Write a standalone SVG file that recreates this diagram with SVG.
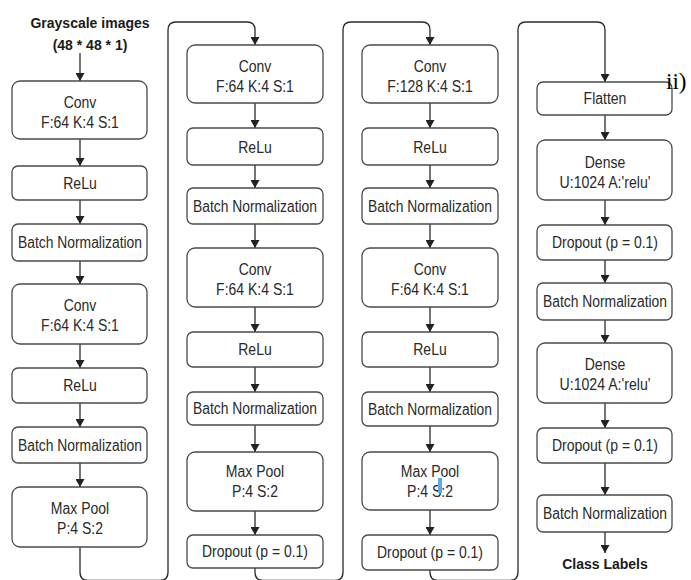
<svg xmlns="http://www.w3.org/2000/svg" width="691" height="580" viewBox="0 0 691 580">
<defs>
<marker id="ah" markerWidth="8" markerHeight="9" refX="8" refY="4.5" orient="auto" markerUnits="userSpaceOnUse">
<path d="M0,0 L8,4.5 L0,9 z" fill="#222"/>
</marker>
</defs>
<style>
.b{fill:#fff;stroke:#4a4a4a;stroke-width:1.3}
.t{font-family:"Liberation Sans",Arial,sans-serif;font-size:16px;fill:#2a2a2a;text-anchor:middle}
.h{font-family:"Liberation Sans",Arial,sans-serif;font-size:14px;font-weight:bold;fill:#1a1a1a;text-anchor:middle}
.c{fill:none;stroke:#2a2a2a;stroke-width:1.3}
.a{marker-end:url(#ah)}
</style>
<rect width="691" height="580" fill="#fff"/>

<g id="connectors">
<path class="c a" d="M80,53 V81"/>
<path class="c a" d="M80,139 V166"/>
<path class="c a" d="M80,200 V224"/>
<path class="c a" d="M80,261 V284"/>
<path class="c a" d="M80,344 V368"/>
<path class="c a" d="M80,403 V427"/>
<path class="c a" d="M80,463 V487"/>
<path class="c a" d="M80,547 V572 Q80,580.5 88,580.5 H160 Q168,580.5 168,572 V30 Q168,22 176,22 H247 Q255,22 255,30 V45"/>
<path class="c a" d="M255,103 V128"/>
<path class="c a" d="M255,165 V188"/>
<path class="c a" d="M255,224 V248"/>
<path class="c a" d="M255,307 V332"/>
<path class="c a" d="M255,367 V392"/>
<path class="c a" d="M255,425 V452"/>
<path class="c a" d="M255,511 V535"/>
<path class="c a" d="M255,568 V572 Q255,580.5 263,580.5 H335 Q343,580.5 343,572 V30 Q343,22 351,22 H422 Q430,22 430,30 V45"/>
<path class="c a" d="M430,103 V128"/>
<path class="c a" d="M430,165 V188"/>
<path class="c a" d="M430,224 V248"/>
<path class="c a" d="M430,307 V332"/>
<path class="c a" d="M430,367 V392"/>
<path class="c a" d="M430,426 V452"/>
<path class="c a" d="M430,510 V535"/>
<path class="c a" d="M430,570 V572 Q430,580.5 438,580.5 H510 Q518,580.5 518,572 V30 Q518,22 526,22 H597 Q605,22 605,30 V82"/>
<path class="c a" d="M605,115 V140"/>
<path class="c a" d="M605,200 V225"/>
<path class="c a" d="M605,260 V283"/>
<path class="c a" d="M605,320 V343"/>
<path class="c a" d="M605,403 V428"/>
<path class="c a" d="M605,463 V495"/>
<path class="c a" d="M605,532 V553"/>
</g>

<g id="input">
<text class="h" x="90" y="28">Grayscale images</text>
<text class="h" x="90" y="50">(48 * 48 * 1)</text>
</g>

<g id="c1-conv1"><rect class="b" x="12" y="81" width="135" height="58" rx="8"/>
<text class="t" x="80" y="108" textLength="32.7" lengthAdjust="spacingAndGlyphs">Conv</text>
<text class="t" x="80" y="128" textLength="77.8" lengthAdjust="spacingAndGlyphs">F:64 K:4 S:1</text></g>
<g id="c1-relu1"><rect class="b" x="12" y="166" width="135" height="34" rx="6"/>
<text class="t" x="80" y="189" textLength="33.5" lengthAdjust="spacingAndGlyphs">ReLu</text></g>
<g id="c1-bn1"><rect class="b" x="12" y="224" width="135" height="37" rx="6"/>
<text class="t" x="80" y="248" textLength="124" lengthAdjust="spacingAndGlyphs">Batch Normalization</text></g>
<g id="c1-conv2"><rect class="b" x="12" y="284" width="135" height="60" rx="8"/>
<text class="t" x="80" y="311" textLength="32.7" lengthAdjust="spacingAndGlyphs">Conv</text>
<text class="t" x="80" y="331" textLength="77.8" lengthAdjust="spacingAndGlyphs">F:64 K:4 S:1</text></g>
<g id="c1-relu2"><rect class="b" x="12" y="368" width="135" height="35" rx="6"/>
<text class="t" x="80" y="391" textLength="33.5" lengthAdjust="spacingAndGlyphs">ReLu</text></g>
<g id="c1-bn2"><rect class="b" x="12" y="427" width="135" height="36" rx="6"/>
<text class="t" x="80" y="451" textLength="124" lengthAdjust="spacingAndGlyphs">Batch Normalization</text></g>
<g id="c1-pool"><rect class="b" x="12" y="487" width="135" height="60" rx="8"/>
<text class="t" x="80" y="514" textLength="58.4" lengthAdjust="spacingAndGlyphs">Max Pool</text>
<text class="t" x="80" y="534" textLength="45.9" lengthAdjust="spacingAndGlyphs">P:4 S:2</text></g>

<g id="c2-conv1"><rect class="b" x="187" y="45" width="136" height="58" rx="8"/>
<text class="t" x="255" y="72" textLength="32.7" lengthAdjust="spacingAndGlyphs">Conv</text>
<text class="t" x="255" y="92" textLength="77.8" lengthAdjust="spacingAndGlyphs">F:64 K:4 S:1</text></g>
<g id="c2-relu1"><rect class="b" x="187" y="128" width="136" height="37" rx="6"/>
<text class="t" x="255" y="153" textLength="33.5" lengthAdjust="spacingAndGlyphs">ReLu</text></g>
<g id="c2-bn1"><rect class="b" x="187" y="188" width="136" height="36" rx="6"/>
<text class="t" x="255" y="212" textLength="124" lengthAdjust="spacingAndGlyphs">Batch Normalization</text></g>
<g id="c2-conv2"><rect class="b" x="187" y="248" width="136" height="59" rx="8"/>
<text class="t" x="255" y="275" textLength="32.7" lengthAdjust="spacingAndGlyphs">Conv</text>
<text class="t" x="255" y="295" textLength="77.8" lengthAdjust="spacingAndGlyphs">F:64 K:4 S:1</text></g>
<g id="c2-relu2"><rect class="b" x="187" y="332" width="136" height="35" rx="6"/>
<text class="t" x="255" y="355" textLength="33.5" lengthAdjust="spacingAndGlyphs">ReLu</text></g>
<g id="c2-bn2"><rect class="b" x="187" y="392" width="136" height="33" rx="6"/>
<text class="t" x="255" y="414" textLength="124" lengthAdjust="spacingAndGlyphs">Batch Normalization</text></g>
<g id="c2-pool"><rect class="b" x="187" y="452" width="136" height="59" rx="8"/>
<text class="t" x="255" y="477" textLength="58.4" lengthAdjust="spacingAndGlyphs">Max Pool</text>
<text class="t" x="255" y="497" textLength="45.9" lengthAdjust="spacingAndGlyphs">P:4 S:2</text></g>
<g id="c2-drop"><rect class="b" x="187" y="535" width="136" height="33" rx="6"/>
<text class="t" x="255" y="557" textLength="106" lengthAdjust="spacingAndGlyphs">Dropout (p = 0.1)</text></g>

<g id="c3-conv1"><rect class="b" x="362" y="45" width="136" height="58" rx="8"/>
<text class="t" x="430" y="72" textLength="32.7" lengthAdjust="spacingAndGlyphs">Conv</text>
<text class="t" x="430" y="92" textLength="85.6" lengthAdjust="spacingAndGlyphs">F:128 K:4 S:1</text></g>
<g id="c3-relu1"><rect class="b" x="362" y="128" width="136" height="37" rx="6"/>
<text class="t" x="430" y="153" textLength="33.5" lengthAdjust="spacingAndGlyphs">ReLu</text></g>
<g id="c3-bn1"><rect class="b" x="362" y="188" width="136" height="36" rx="6"/>
<text class="t" x="430" y="212" textLength="124" lengthAdjust="spacingAndGlyphs">Batch Normalization</text></g>
<g id="c3-conv2"><rect class="b" x="362" y="248" width="136" height="59" rx="8"/>
<text class="t" x="430" y="275" textLength="32.7" lengthAdjust="spacingAndGlyphs">Conv</text>
<text class="t" x="430" y="295" textLength="77.8" lengthAdjust="spacingAndGlyphs">F:64 K:4 S:1</text></g>
<g id="c3-relu2"><rect class="b" x="362" y="332" width="136" height="35" rx="6"/>
<text class="t" x="430" y="355" textLength="33.5" lengthAdjust="spacingAndGlyphs">ReLu</text></g>
<g id="c3-bn2"><rect class="b" x="362" y="392" width="136" height="34" rx="6"/>
<text class="t" x="430" y="415" textLength="124" lengthAdjust="spacingAndGlyphs">Batch Normalization</text></g>
<g id="c3-pool"><rect class="b" x="362" y="452" width="136" height="58" rx="8"/>
<text class="t" x="430" y="477" textLength="58.4" lengthAdjust="spacingAndGlyphs">Max Pool</text>
<text class="t" x="430" y="497" textLength="45.9" lengthAdjust="spacingAndGlyphs">P:4 S:2</text>
<rect x="438" y="478" width="4" height="15" fill="#5aaae6"/></g>
<g id="c3-drop"><rect class="b" x="362" y="535" width="136" height="35" rx="6"/>
<text class="t" x="430" y="558" textLength="106" lengthAdjust="spacingAndGlyphs">Dropout (p = 0.1)</text></g>

<g id="c4-flatten"><rect class="b" x="537" y="82" width="135" height="33" rx="6"/>
<text class="t" x="605" y="104" textLength="42.8" lengthAdjust="spacingAndGlyphs">Flatten</text></g>
<g id="c4-dense1"><rect class="b" x="537" y="140" width="135" height="60" rx="8"/>
<text class="t" x="605" y="168" textLength="40.5" lengthAdjust="spacingAndGlyphs">Dense</text>
<text class="t" x="605" y="188" textLength="90.9" lengthAdjust="spacingAndGlyphs">U:1024 A:'relu'</text></g>
<g id="c4-drop1"><rect class="b" x="537" y="225" width="135" height="35" rx="6"/>
<text class="t" x="605" y="248" textLength="106" lengthAdjust="spacingAndGlyphs">Dropout (p = 0.1)</text></g>
<g id="c4-bn1"><rect class="b" x="537" y="283" width="135" height="37" rx="6"/>
<text class="t" x="605" y="307" textLength="124" lengthAdjust="spacingAndGlyphs">Batch Normalization</text></g>
<g id="c4-dense2"><rect class="b" x="537" y="343" width="135" height="60" rx="8"/>
<text class="t" x="605" y="370" textLength="40.5" lengthAdjust="spacingAndGlyphs">Dense</text>
<text class="t" x="605" y="390" textLength="90.9" lengthAdjust="spacingAndGlyphs">U:1024 A:'relu'</text></g>
<g id="c4-drop2"><rect class="b" x="537" y="428" width="135" height="35" rx="6"/>
<text class="t" x="605" y="451" textLength="106" lengthAdjust="spacingAndGlyphs">Dropout (p = 0.1)</text></g>
<g id="c4-bn2"><rect class="b" x="537" y="495" width="135" height="37" rx="6"/>
<text class="t" x="605" y="519" textLength="124" lengthAdjust="spacingAndGlyphs">Batch Normalization</text></g>
<g id="output">
<text class="h" x="605" y="569">Class Labels</text>
</g>
<g id="label">
<text x="666" y="89" font-family="'Liberation Serif','Times New Roman',serif" font-size="23" fill="#000">ii)</text>
</g>
</svg>
